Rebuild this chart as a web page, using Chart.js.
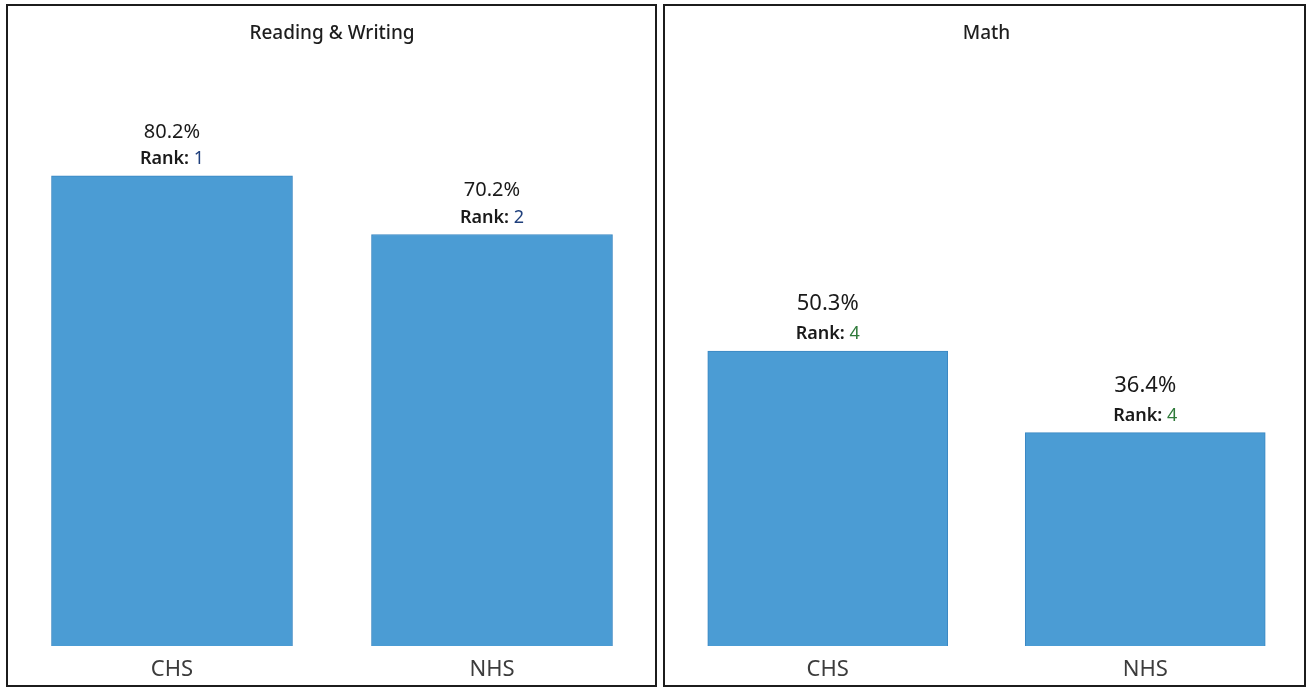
<!DOCTYPE html>
<html>
<head>
<meta charset="utf-8">
<script src="https://cdn.jsdelivr.net/npm/chart.js@4.4.1/dist/chart.umd.min.js"></script>
<style>
    html, body { margin: 0; padding: 0; background: #ffffff; }
    body { width: 1312px; height: 689px; position: relative; overflow: hidden; }
    .panel {
        position: absolute; top: 4px; height: 683px;
        box-sizing: border-box; border: 2px solid #1c1c1c; background: #fff;
    }
    #panelReading { left: 6px; width: 651px; }
    #panelMath { left: 663px; width: 643px; }
    .panel canvas { display: block; }
</style>
</head>
<body>
<div class="panel" id="panelReading"><canvas id="readingChart"></canvas></div>
<div class="panel" id="panelMath"><canvas id="mathChart"></canvas></div>

<script>
// Datos
const categories = ['CHS', 'NHS'];
const panelTitles = ['Reading & Writing', 'Math'];
const readingValues = [80.2, 70.2];
const readingRanks = [1, 2];
const mathValues = [50.3, 36.4];
const mathRanks = [4, 4];

const FONT = '"Noto Sans", "Open Sans", sans-serif';

// Plugin para dibujar el porcentaje y el rank encima de cada barra
const barLabelsPlugin = {
    id: 'barLabels',
    afterDatasetsDraw(chart, args, opts) {
        const ctx = chart.ctx;
        const meta = chart.getDatasetMeta(0);
        const values = chart.data.datasets[0].data;
        const ranks = opts.ranks;
        meta.data.forEach((bar, i) => {
            const x = bar.x;
            const top = bar.y;
            ctx.save();
            ctx.textAlign = 'center';
            ctx.textBaseline = 'middle';
            ctx.fillStyle = '#1a1a1a';
            ctx.font = `${opts.valueSize}px ${FONT}`;
            ctx.fillText(values[i].toFixed(1) + '%', x, top - opts.valueGap);

            // "Rank:" en negrita + número con color
            ctx.font = `600 18px ${FONT}`;
            const lbl = 'Rank: ';
            const num = String(ranks[i]);
            const w1 = ctx.measureText(lbl).width;
            ctx.font = `18px ${FONT}`;
            const w2 = ctx.measureText(num).width;
            const startX = x - (w1 + w2) / 2;
            ctx.textAlign = 'left';
            ctx.font = `600 18px ${FONT}`;
            ctx.fillStyle = '#1a1a1a';
            ctx.fillText(lbl, startX, top - 17);
            ctx.font = `18px ${FONT}`;
            ctx.fillStyle = ranks[i] <= 2 ? '#1f3f7c' : '#2f7a3a';
            ctx.fillText(num, startX + w1, top - 17);
            ctx.restore();
        });
    }
};

function makePanel(canvasId, width, title, values, ranks, pad, barThickness, valueSize, valueGap) {
    const canvas = document.getElementById(canvasId);
    canvas.width = width;
    canvas.height = 679;
    canvas.style.width = width + 'px';
    canvas.style.height = '679px';
    return new Chart(canvas.getContext('2d'), {
        type: 'bar',
        data: {
            labels: categories,
            datasets: [{
                data: values,
                backgroundColor: '#4b9cd4',
                borderColor: '#3a87c2',
                borderWidth: 1,
                barThickness: barThickness,
                categoryPercentage: 1,
                barPercentage: 0.75
            }]
        },
        options: {
            responsive: false,
            animation: false,
            devicePixelRatio: 1,
            layout: { padding: { left: pad.left, right: pad.right, top: 0, bottom: 0 } },
            plugins: {
                legend: { display: false },
                tooltip: { enabled: false },
                title: {
                    display: true,
                    text: title,
                    color: '#1e1e1e',
                    font: { family: FONT, size: 19, weight: '500' },
                    padding: { top: 16, bottom: 15 }
                },
                barLabels: { ranks: ranks, valueSize: valueSize, valueGap: valueGap }
            },
            scales: {
                x: {
                    grid: { display: false, drawTicks: false },
                    border: { display: false },
                    ticks: { color: '#3c3c3c', padding: 11, font: { family: FONT, size: 22 } },
                    afterFit(scale) { scale.height = 39; }
                },
                y: { display: false, min: 0, max: 100 }
            }
        },
        plugins: [barLabelsPlugin]
    });
}

makePanel('readingChart', 647, panelTitles[0], readingValues, readingRanks, { left: 4, right: 3 }, 241, 20, 44);
makePanel('mathChart', 639, panelTitles[1], mathValues, mathRanks, { left: 4, right: 0 }, 240, 22, 47);
</script>
</body>
</html>
